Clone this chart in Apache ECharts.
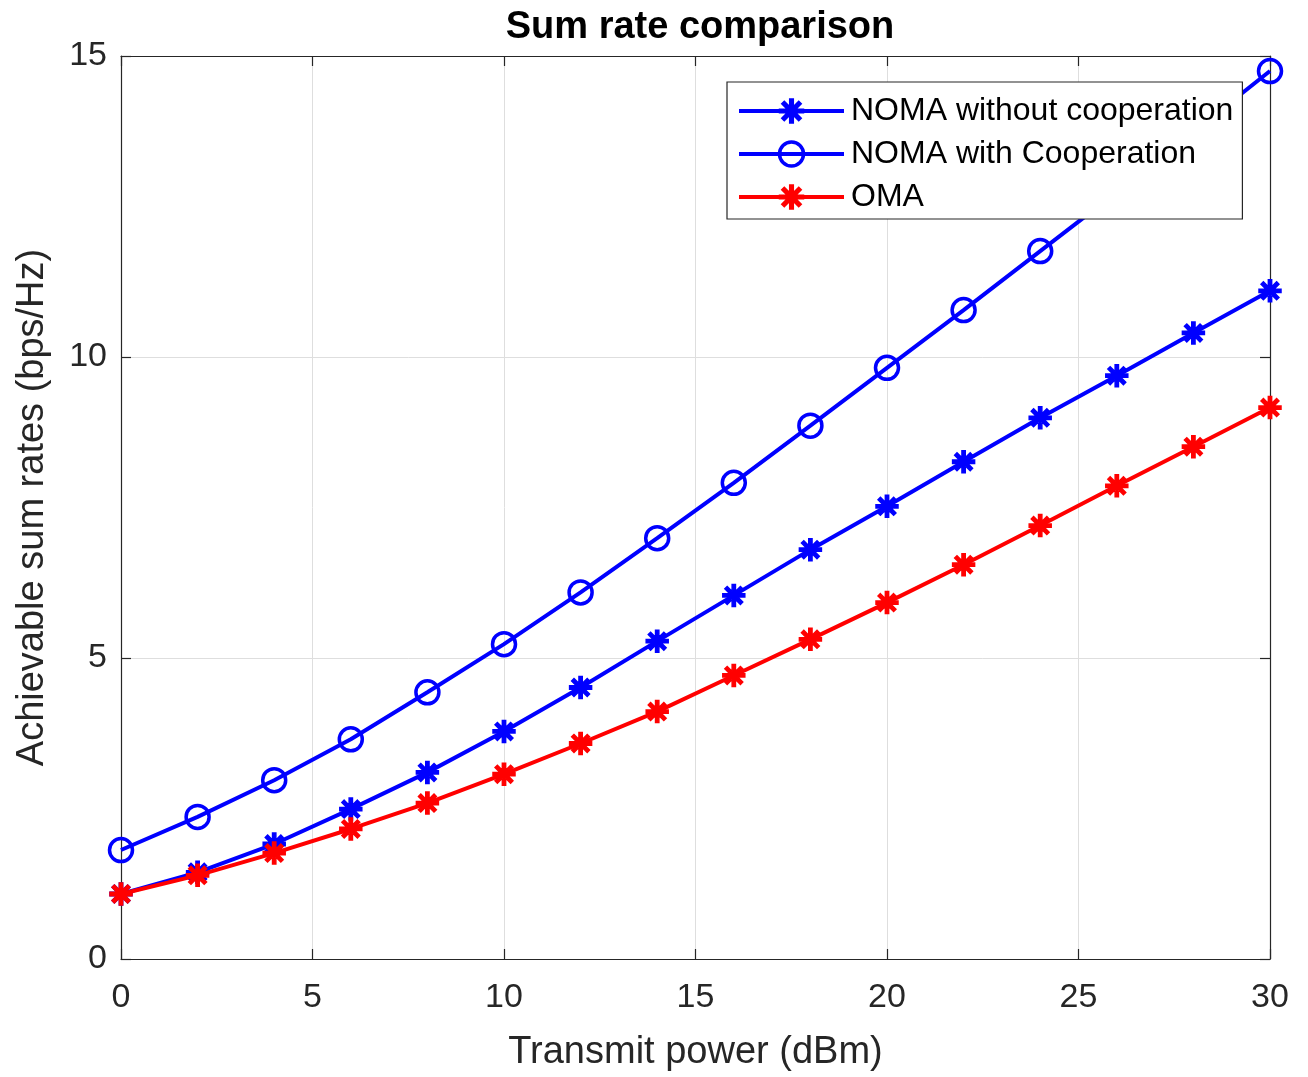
<!DOCTYPE html>
<html>
<head>
<meta charset="utf-8">
<script src="https://cdn.jsdelivr.net/npm/echarts@6/dist/echarts.min.js"></script>
<style>
  html, body { margin: 0; padding: 0; background: #fff; }
  #chart { width: 1308px; height: 1077px; }
</style>
</head>
<body>
<div id="chart"></div>
<script>
(function () {
  'use strict';

  // transmit power (dBm)
  var power = [0, 2, 4, 6, 8, 10, 12, 14, 16, 18, 20, 22, 24, 26, 28, 30];

  // sum rates (bps/Hz)
  var nomaNoCoop = [1.08, 1.44, 1.91, 2.49, 3.10, 3.78, 4.51, 5.28, 6.04, 6.80, 7.52, 8.26, 8.99, 9.69, 10.40, 11.10];
  var nomaCoop   = [1.81, 2.36, 2.97, 3.65, 4.43, 5.23, 6.09, 6.99, 7.91, 8.86, 9.82, 10.78, 11.76, 12.74, 13.74, 14.75];
  var oma        = [1.08, 1.39, 1.76, 2.16, 2.59, 3.07, 3.58, 4.11, 4.71, 5.31, 5.92, 6.55, 7.20, 7.86, 8.51, 9.16];

  var seriesNames = ['NOMA without cooperation', 'NOMA with Cooperation', 'OMA'];

  var xTicks = { min: 0, max: 30, interval: 5 };
  var yTicks = { min: 0, max: 15, interval: 5 };

  var FONT = '"Liberation Sans", Arial, Helvetica, sans-serif';
  var INK = '#262626';
  var BLUE = '#0000ff';
  var RED = '#ff0000';

  // MATLAB-ish '*' marker (8 arms)
  var ASTERISK = 'path://M-10,-1.5L10,-1.5L10,1.5L-10,1.5Z' +
    'M-1.5,-10L1.5,-10L1.5,10L-1.5,10Z' +
    'M-6.01,-8.13L8.13,6.01L6.01,8.13L-8.13,-6.01Z' +
    'M6.01,-8.13L8.13,-6.01L-6.01,8.13L-8.13,6.01Z';

  function pairs(ys) {
    return power.map(function (x, i) { return [x, ys[i]]; });
  }

  function boxAxis(pos, ticks, isMain) {
    return {
      type: 'value',
      position: pos,
      min: ticks.min,
      max: ticks.max,
      interval: ticks.interval,
      axisLine: { show: true, onZero: false, lineStyle: { color: INK, width: 1.2 } },
      axisTick: { show: true, inside: true, length: 10, lineStyle: { color: INK, width: 1.2 } },
      axisLabel: isMain ? {
        show: true, color: INK, fontFamily: FONT, fontSize: 34,
        margin: (pos === 'bottom') ? 22 : 14
      } : { show: false },
      splitLine: isMain ? { show: true, lineStyle: { color: '#dedede', width: 1 } } : { show: false }
    };
  }

  var xMain = boxAxis('bottom', xTicks, true);
  xMain.name = 'Transmit power (dBm)';
  xMain.nameLocation = 'middle';
  xMain.nameGap = 75;
  xMain.nameTextStyle = { color: INK, fontFamily: FONT, fontSize: 38 };

  var yMain = boxAxis('left', yTicks, true);
  yMain.name = 'Achievable sum rates (bps/Hz)';
  yMain.nameLocation = 'middle';
  yMain.nameGap = 69;
  yMain.nameTextStyle = { color: INK, fontFamily: FONT, fontSize: 38 };

  var chart = echarts.init(document.getElementById('chart'), null, { renderer: 'canvas' });

  chart.setOption({
    animation: false,
    backgroundColor: '#ffffff',
    title: {
      text: 'Sum rate comparison',
      left: 695,
      top: 4,
      textAlign: 'center',
      textStyle: { color: '#000', fontFamily: FONT, fontWeight: 'bold', fontSize: 38 }
    },
    grid: { left: 121, right: 38, top: 56, bottom: 117, containLabel: false },
    legend: {
      orient: 'vertical',
      left: 727,
      top: 82,
      padding: [13, 9, 6, 10],
      itemGap: 11,
      itemWidth: 105,
      itemHeight: 30,
      backgroundColor: '#fff',
      borderColor: INK,
      borderWidth: 1.2,
      borderRadius: 0,
      lineStyle: { width: 4 },
      textStyle: { color: '#000', fontFamily: FONT, fontSize: 32, padding: [0, 0, 0, 2] },
      data: [
        { name: seriesNames[0], itemStyle: { borderWidth: 1.5 } },
        { name: seriesNames[1], itemStyle: { borderWidth: 3.5 } },
        { name: seriesNames[2], itemStyle: { borderWidth: 1.5 } }
      ],
      z: 10
    },
    xAxis: [xMain, boxAxis('top', xTicks, false)],
    yAxis: [yMain, boxAxis('right', yTicks, false)],
    series: [
      {
        name: seriesNames[0],
        type: 'line',
        data: pairs(nomaNoCoop),
        symbol: ASTERISK,
        symbolSize: 22,
        lineStyle: { color: BLUE, width: 4 },
        itemStyle: { color: BLUE, borderColor: BLUE, borderWidth: 1.5 },
        z: 2
      },
      {
        name: seriesNames[1],
        type: 'line',
        data: pairs(nomaCoop),
        symbol: 'circle',
        symbolSize: 23,
        lineStyle: { color: BLUE, width: 4 },
        itemStyle: { color: 'rgba(0,0,0,0)', borderColor: BLUE, borderWidth: 3.5 },
        z: 3
      },
      {
        name: seriesNames[2],
        type: 'line',
        data: pairs(oma),
        symbol: ASTERISK,
        symbolSize: 22,
        lineStyle: { color: RED, width: 4 },
        itemStyle: { color: RED, borderColor: RED, borderWidth: 1.5 },
        z: 4
      }
    ]
  });
})();
</script>
</body>
</html>
